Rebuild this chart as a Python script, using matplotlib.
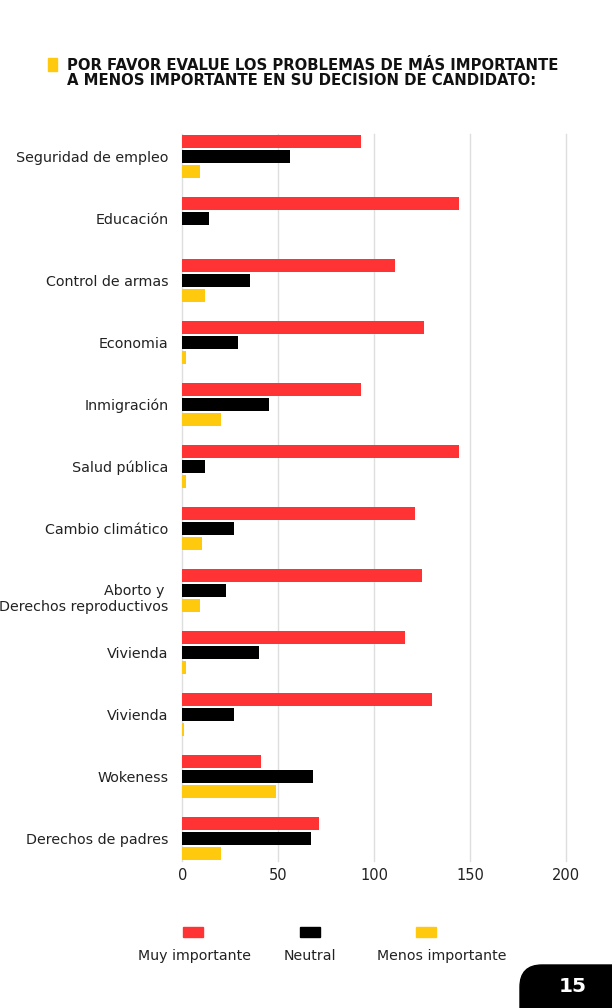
import matplotlib
matplotlib.use("Agg")
import matplotlib.pyplot as plt
import numpy as np
from matplotlib.patches import Rectangle, FancyBboxPatch
from matplotlib.transforms import ScaledTranslation

categories = ["Seguridad de empleo", "Educación", "Control de armas", "Economia",
              "Inmigración", "Salud pública", "Cambio climático",
              "Aborto y \nDerechos reproductivos", "Vivienda", "Vivienda",
              "Wokeness", "Derechos de padres"]
muy_importante = [93, 144, 111, 126, 93, 144, 121, 125, 116, 130, 41, 71]
neutral = [56, 14, 35, 29, 45, 12, 27, 23, 40, 27, 68, 67]
menos_importante = [9, 0, 12, 2, 20, 2, 10, 9, 2, 1, 49, 20]
series_labels = ["Muy importante", "Neutral", "Menos importante"]
colors = ["#FF3333", "#000000", "#FFC90E"]
x_ticks = [0, 50, 100, 150, 200]

FONT = "DejaVu Sans"
plt.rcParams["font.family"] = [FONT]

fig = plt.figure(figsize=(6.12, 10.08), dpi=100)
ax = fig.add_axes([182.3 / 612, 1 - 861 / 1008, 393.6 / 612, 727 / 1008])

y = np.arange(len(categories))
h = 0.218
off = 0.242
for vals, dy, c in zip([muy_importante, neutral, menos_importante], [-off, 0, off], colors):
    ax.barh(y + dy, vals, height=h, color=c, zorder=3)

ax.set_ylim(11.36, -0.36)
ax.set_xlim(0, 205)
ax.set_xticks(x_ticks)
ax.set_xticklabels([str(t) for t in x_ticks], fontsize=10.5, color="#222222")
ax.set_yticks(y)
ax.set_yticklabels(categories, fontsize=10.3, color="#222222")
ax.tick_params(axis="both", length=0)
ax.tick_params(axis="y", pad=10)
ax.tick_params(axis="x", pad=5)
for s in ax.spines.values():
    s.set_visible(False)
ax.grid(axis="x", color="#DEDEDE", linewidth=1.0, zorder=0)
ax.set_axisbelow(True)
for gl in ax.get_xgridlines():
    gl.set_clip_on(False)

# shift the two-line label slightly down like the reference
for lbl in ax.get_yticklabels():
    if "\n" in lbl.get_text():
        lbl.set_transform(lbl.get_transform() + ScaledTranslation(0, -0.06, fig.dpi_scale_trans))

# Title
fig.patches.append(Rectangle((48 / 612, 1 - 71 / 1008), 9 / 612, 13 / 1008,
                             transform=fig.transFigure, color="#FFC90E"))
fig.text(67 / 612, 1 - 73 / 1008,
         "POR FAVOR EVALUE LOS PROBLEMAS DE MÁS IMPORTANTE\nA MENOS IMPORTANTE EN SU DECISION DE CANDIDATO:",
         fontsize=10.7, fontweight="bold", color="#111111", va="center", ha="left",
         linespacing=1.05)

# Legend
patch_x = [183, 300, 416]
label_x = [194, 310, 442]
for px, lx, lab, c in zip(patch_x, label_x, series_labels, colors):
    fig.patches.append(Rectangle((px / 612, 1 - 937 / 1008), 20 / 612, 10 / 1008,
                                 transform=fig.transFigure, color=c))
    fig.text(lx / 612, 1 - 956 / 1008, lab, fontsize=10.2, color="#222222",
             ha="center", va="center")

# Page number badge
fig.patches.append(FancyBboxPatch((5.20, -0.3), 1.2, 0.73,
                                  boxstyle="round,pad=0,rounding_size=0.22",
                                  transform=fig.dpi_scale_trans, color="#000000"))
fig.text(573 / 612, 1 - 986 / 1008, "15", fontsize=14.5, fontweight="bold",
         color="white", ha="center", va="center")

fig.savefig("out.png", dpi=100)
